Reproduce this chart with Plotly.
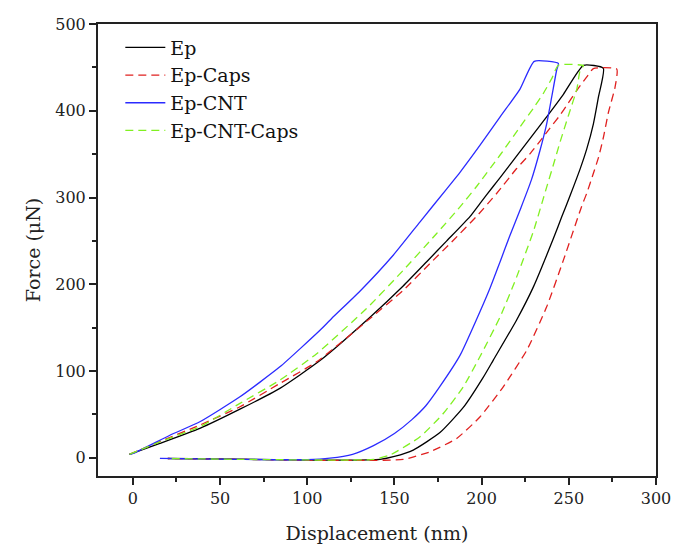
import plotly.graph_objects as go

# ---- data: loading -> hold -> unloading -> tail ----
ep_x = [-2, 15.5, 38.4, 61.4, 84.3, 107.3, 136, 155, 168.5, 180, 193.3, 199, 206.7, 210.6, 222, 235.4, 246.9, 258.4,
        269.8,
        267, 264.1, 260.3, 256.5, 250.7, 246, 241.2, 229.7, 220, 206.7, 201, 189.5, 176.1, 160.8, 150, 141.7,
        120, 100, 60, 20]
ep_y = [4, 16.6, 33.9, 56, 80, 112, 162, 198, 226, 250, 278, 293, 313, 323, 353, 388, 419, 452.4,
        449,
        416, 385, 356, 333, 302, 278, 253, 197, 158.6, 112.6, 93, 58, 29, 8.9, 1.5, -1.9,
        -2.8, -2.6, -1.6, -0.8]

caps_x = [-2, 17.4, 38.4, 61.4, 84.3, 105.4, 136, 155, 170.4, 183.8, 197.2, 208.6, 220.1, 227.8, 233.5, 239.2,
          245, 249.7, 255.5, 260.3, 264.1,
          277.5,
          276.5, 272.7, 269.8, 267, 264.1, 260.3, 257.4, 246.9, 237.3, 225.9, 212.4, 199, 185.7, 170.4, 155,
          130, 100, 60, 20]
caps_y = [4, 20.4, 37.7, 58.8, 85.7, 110.6, 160.6, 193, 224, 250.8, 278.5, 304.6, 333.4, 350.5, 365, 380,
          395, 409, 426, 439, 448.6,
          448,
          427, 398, 369, 346, 328, 305, 290, 227.8, 174, 124, 81.8, 47, 22.3, 6.9, -1.9,
          -3, -2.8, -1.8, -0.8]

cnt_x = [-2, 0.2, 21.2, 38.4, 61.4, 84.3, 107.3, 114, 130.2, 149.3, 164.7, 180, 187.6, 199, 210.6, 222, 230.2,
         244,
         243, 240.2, 237.3, 233.5, 228.5, 222.5, 216, 210.6, 204.9, 197.2, 187.6, 176, 168, 160, 150, 138,
         126, 113,
         100, 60, 15.5]
cnt_y = [4, 5, 26, 41.5, 70.3, 104.8, 147, 160.6, 192, 233.5, 272, 310, 329, 360, 393, 425, 457,
         454.5,
         446.7, 416, 385, 354.5, 320, 288, 255, 226, 196, 160, 118, 82, 60, 44, 28, 14,
         4, -0.5,
         -2.2, -1.8, -0.7]

cntcaps_x = [-2, 15.5, 38.4, 61.4, 84.3, 105.4, 134, 155, 174.2, 187.6, 197.2, 210.6, 222, 229.7, 235.4, 240.2, 244,
             258.4,
             256.5, 254.6, 249.7, 245, 241.2, 237.3, 234.5, 229.7, 220.1, 210.6, 199, 189.5, 178, 164.7, 147.4, 137.9,
             120, 100, 60, 20]
cntcaps_y = [4, 18.4, 35.7, 62.7, 89.5, 120, 172, 216, 258.5, 289.2, 313, 349, 381.3, 403, 420, 437, 452.4,
             452,
             446.7, 425, 394, 364, 338, 312, 293, 261, 208.5, 162.4, 116.4, 81.8, 51, 24.2, 3.1, -1.9,
             -2.6, -2.5, -1.8, -0.8]

names = ["Ep", "Ep-Caps", "Ep-CNT", "Ep-CNT-Caps"]
colors = ["#000000", "#e0201f", "#2b2bff", "#80f020"]
dashes = ["solid", "8px,5px", "solid", "8px,5px"]
xs = [ep_x, caps_x, cnt_x, cntcaps_x]
ys = [ep_y, caps_y, cnt_y, cntcaps_y]

x_ticks = [0, 50, 100, 150, 200, 250, 300]
y_ticks = [0, 100, 200, 300, 400, 500]

FONT = "DejaVu Serif"

fig = go.Figure()
for n, c, d, x, y in zip(names, colors, dashes, xs, ys):
    fig.add_trace(go.Scatter(x=x, y=y, mode="lines", name=n,
                             line=dict(color=c, width=1.3, dash=d, shape="spline", smoothing=0.5)))

axis_common = dict(showline=True, linecolor="#222222", linewidth=2, mirror=True,
                   showgrid=False, zeroline=False, ticks="outside", ticklen=7,
                   tickwidth=1.5, tickcolor="#222222", automargin=False,
                   tickfont=dict(family=FONT, size=16, color="#222222"))

fig.update_xaxes(range=[-20, 300], tickvals=x_ticks,
                 minor=dict(ticks="outside", ticklen=4, tickwidth=1.5, tickcolor="#222222", dtick=25, tick0=0),
                 title=dict(text="Displacement (nm)", font=dict(family=FONT, size=19, color="#222222"), standoff=20),
                 **axis_common)
fig.update_yaxes(range=[-21, 500], tickvals=y_ticks,
                 minor=dict(ticks="outside", ticklen=4, tickwidth=1.5, tickcolor="#222222", dtick=50, tick0=0),
                 title=dict(text="Force (μN)", font=dict(family=FONT, size=19, color="#222222"), standoff=10),
                 **axis_common)

fig.update_layout(
    width=673, height=544,
    margin=dict(l=98, r=17, t=24, b=68),
    paper_bgcolor="white", plot_bgcolor="white",
    showlegend=True,
    legend=dict(x=0.04, y=0.99, xanchor="left", yanchor="top",
                bgcolor="rgba(0,0,0,0)", borderwidth=0,
                font=dict(family=FONT, size=19, color="#111111"),
                tracegroupgap=0, itemwidth=40),
)

fig.write_html("out.html")
